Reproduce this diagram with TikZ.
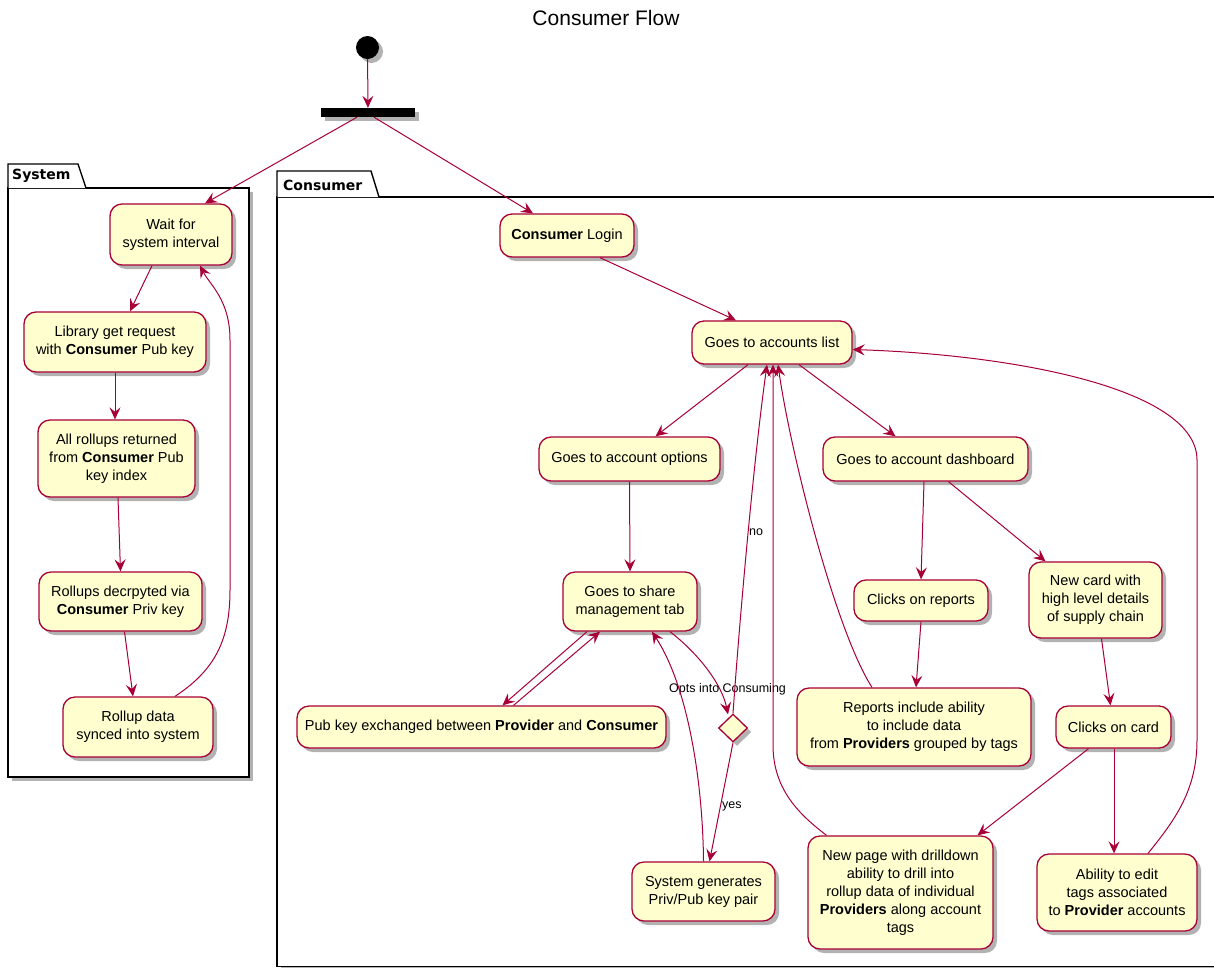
\documentclass[tikz,border=0pt]{standalone}
\usepackage{fontspec}
\setmainfont{Liberation Sans}
\newfontfamily\pkgfont{DejaVu Sans}
\usetikzlibrary{arrows.meta,shapes.geometric,shadows,calc}
\definecolor{umlred}{HTML}{A80036}
\definecolor{umlfill}{HTML}{FEFECE}
\begin{document}
\begin{tikzpicture}[x=1pt,y=-1pt,
  shad/.style={drop shadow={shadow xshift=4pt,shadow yshift=-4pt,opacity=0.3,fill=black}},
  act/.style={rectangle,rounded corners=12pt,draw=umlred,fill=umlfill,line width=1.3pt,
    align=center,inner sep=2pt,font=\fontsize{14.5}{18}\selectfont,shad},
  flow/.style={draw=umlred,line width=1pt,-{Stealth[length=12pt,width=11pt,inset=4.5pt]}},
  lbl/.style={font=\fontsize{12.5}{14}\selectfont,inner sep=1pt,anchor=west},
  pkg/.style={draw=black,line width=1.4pt,fill=white},
  pkglbl/.style={font=\pkgfont\bfseries\fontsize{14}{16}\selectfont,anchor=west,inner sep=0pt}]
\useasboundingbox (0,0) rectangle (1214,967);

% title
\node[font=\fontsize{21}{24}\selectfont] (title) at (606,18) {Consumer Flow};

% packages
\draw[pkg,shad] (8,188) rectangle (249,777);
\draw[pkg] (8,188) -- (8,164) -- (78,164) -- (86,188);
\node[pkglbl] (syslbl) at (12,176) {System};
\draw[pkg,shad] (277,197) rectangle (1230,966.5);
\draw[pkg] (277,197) -- (277,171) -- (371,171) -- (379,197);
\node[pkglbl] (conlbl) at (283,185) {Consumer};

% start / fork
\node[circle,fill=black,minimum size=23pt,inner sep=0pt,shad] (start) at (367.5,47.5) {};
\node[rectangle,fill=black,minimum width=94pt,minimum height=9pt,inner sep=0pt,shad] (fork) at (368,112.5) {};

% system nodes
\node[act,minimum width=122pt,minimum height=61pt] (wait) at (171,234.5) {Wait for\\system interval};
\node[act,minimum width=182pt,minimum height=60pt] (lib) at (115,342) {Library get request\\with \textbf{Consumer} Pub key};
\node[act,minimum width=157pt,minimum height=77pt] (rollups) at (116.5,458.5) {All rollups returned\\from \textbf{Consumer} Pub\\key index};
\node[act,minimum width=163pt,minimum height=59pt] (decr) at (120.5,601.5) {Rollups decrpyted via\\\textbf{Consumer} Priv key};
\node[act,minimum width=150pt,minimum height=60pt] (synced) at (138,727) {Rollup data\\synced into system};

% consumer nodes
\node[act,minimum width=134pt,minimum height=43pt] (login) at (567,235.5) {\textbf{Consumer} Login};
\node[act,minimum width=160pt,minimum height=43pt] (list) at (772,342.5) {Goes to accounts list};
\node[act,minimum width=181pt,minimum height=44pt] (options) at (629.5,459) {Goes to account options};
\node[act,minimum width=205pt,minimum height=44pt] (dashboard) at (925.5,459) {Goes to account dashboard};
\node[act,minimum width=134pt,minimum height=59pt] (share) at (630,601.5) {Goes to share\\management tab};
\node[act,minimum width=369pt,minimum height=42pt] (pubkey) at (481.5,727) {Pub key exchanged between \textbf{Provider} and \textbf{Consumer}};
\node[diamond,draw=umlred,fill=umlfill,line width=1.3pt,minimum width=29pt,minimum height=28pt,inner sep=0pt,shad] (dia) at (733,728) {};
\node[act,minimum width=134pt,minimum height=41pt] (creports) at (921,600.5) {Clicks on reports};
\node[act,minimum width=133pt,minimum height=76pt] (newcard) at (1095.5,600) {New card with\\high level details\\of supply chain};
\node[act,minimum width=234pt,minimum height=78pt] (reports) at (914,727) {Reports include ability\\to include data\\from \textbf{Providers} grouped by tags};
\node[act,minimum width=115pt,minimum height=42pt] (ccard) at (1113.5,727) {Clicks on card};
\node[act,minimum width=143pt,minimum height=59pt] (sysgen) at (703.5,891.5) {System generates\\Priv/Pub key pair};
\node[act,minimum width=185pt,minimum height=113pt] (newpage) at (900.5,892.5) {New page with drilldown\\ability to drill into\\rollup data of individual\\\textbf{Providers} along account\\tags};
\node[act,minimum width=160pt,minimum height=77pt] (ability) at (1117,892.5) {Ability to edit\\tags associated\\to \textbf{Provider} accounts};

% edges
\draw[flow] (start) -- (fork);
\draw[flow] ($(fork.south)+(-11,0)$) -- ($(wait.north)+(34,0)$);
\draw[flow] ($(fork.south)+(6,0)$) -- ($(login.north)+(-34,0)$);
\draw[flow] ($(wait.south)+(-19,0)$) -- ($(lib.north)+(15,0)$);
\draw[flow] (lib.south) -- ($(rollups.north)+(-1.5,0)$);
\draw[flow] ($(rollups.south)+(1.5,0)$) -- (decr.north);
\draw[flow] ($(decr.south)+(4,0)$) -- ($(synced.north)+(-5,0)$);
\draw[flow] ($(synced.north)+(37,0)$) .. controls (215,670) and (230,640) .. (230,590)
  -- (230,340) .. controls (230,300) and (210,285) .. ($(wait.south)+(29,0)$);

\draw[flow] ($(login.south)+(33,0)$) -- ($(list.north)+(-36,0)$);
\draw[flow] ($(list.south)+(-24,0)$) -- ($(options.north)+(26,0)$);
\draw[flow] ($(list.south)+(27,0)$) -- ($(dashboard.north)+(-30,0)$);
\draw[flow] (options.south) -- (share.north);
\draw[flow] ($(share.south)+(-43,0)$) -- ($(pubkey.north)+(21,0)$);
\draw[flow] ($(pubkey.north)+(32,0)$) -- ($(share.south)+(-30,0)$);
\draw[flow] ($(share.south)+(40,0)$) .. controls (700,655) and (722,685) .. ($(dia.north)+(-5,1)$);
\node[lbl] (optslbl) at (668,689) {Opts into Consuming};
\draw[flow] (dia.north) .. controls (741,600) and (755,450) .. ($(list.south)+(-5,0)$);
\node[lbl] (nolbl) at (748,532) {no};
\draw[flow] (dia.south) -- ($(sysgen.north)+(6,0)$);
\node[lbl] (yeslbl) at (721,806) {yes};
\draw[flow] (sysgen.north) .. controls (703,790) and (690,690) .. ($(share.south)+(22,0)$);

\draw[flow] ($(dashboard.south)+(-1.5,0)$) -- (creports.north);
\draw[flow] ($(dashboard.south)+(23,0)$) -- ($(newcard.north)+(-50,0)$);
\draw[flow] (creports.south) -- ($(reports.north)+(2,0)$);
\draw[flow] ($(reports.north)+(-42,0)$) .. controls (835,630) and (790,450) .. ($(list.south)+(6,0)$);
\draw[flow] ($(newcard.south)+(6,0)$) -- ($(ccard.north)+(-3,0)$);
\draw[flow] ($(ccard.south)+(-25,0)$) -- ($(newpage.north)+(77,0)$);
\draw[flow] ($(ccard.south)+(0.5,0)$) -- ($(ability.north)+(-3,0)$);
\draw[flow] ($(newpage.north)+(-74,0)$) .. controls (800,815) and (773,790) .. (773,745)
  -- ($(list.south)+(1,0)$);
\draw[flow] ($(ability.north)+(31,0)$) .. controls (1175,820) and (1197,790) .. (1197,740)
  -- (1197,460) .. controls (1197,390) and (1020,355) .. ($(list.east)+(0,7)$);
\end{tikzpicture}
\end{document}
